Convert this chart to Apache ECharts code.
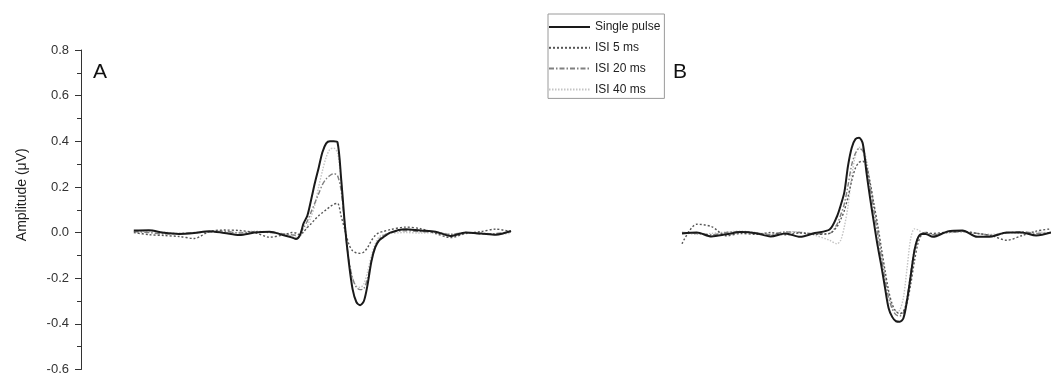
<!DOCTYPE html>
<html>
<head>
<meta charset="utf-8">
<script src="https://cdn.jsdelivr.net/npm/echarts@6/dist/echarts.min.js"></script>
<style>
  html, body { margin: 0; padding: 0; background: #fff; }
  #chart { width: 1051px; height: 376px; }
</style>
</head>
<body>
<div id="chart"></div>
<script>
// time axis (arbitrary units), shared by both panels
const timeMs = [0, 4, 8, 12, 16, 20, 24, 28, 32, 36, 40,
  42, 43, 44, 45, 46, 47, 48, 49, 50, 51, 52, 53, 54, 55, 56, 57, 58, 59, 60, 61, 62, 63, 64, 65, 66,
  68, 72, 76, 80, 84, 88, 92, 96, 100];

const seriesNames = ['Single pulse', 'ISI 5 ms', 'ISI 20 ms', 'ISI 40 ms'];
const yTicks = [-0.6, -0.4, -0.2, 0.0, 0.2, 0.4, 0.6, 0.8];

// panel A
const singleA = [0.009, 0.01, -0.001, -0.006, -0.002, 0.006, -0.002, -0.011, 0.0, 0.004, -0.013,
  -0.022, -0.028, -0.013, 0.04, 0.074, 0.143, 0.217, 0.283, 0.352, 0.391, 0.4, 0.4, 0.396, 0.23, 0.026, -0.13, -0.248, -0.304, -0.318, -0.3, -0.226, -0.126, -0.065, -0.035, -0.022,
  0.0, 0.015, 0.009, 0.004, -0.015, 0.0, -0.004, -0.009, 0.007];
const isi5A = [0.0, -0.009, -0.013, -0.017, -0.026, 0.004, 0.011, 0.009, 0.0, -0.02, -0.009,
  0.0, -0.002, -0.009, 0.004, 0.022, 0.039, 0.057, 0.074, 0.087, 0.1, 0.113, 0.124, 0.128, 0.07, 0.01, -0.05, -0.08, -0.089, -0.091, -0.085, -0.065, -0.035, -0.013, 0.0, 0.004,
  0.013, 0.024, 0.017, -0.004, -0.022, -0.004, 0.004, 0.015, 0.004];
const isi20A = [0.004, 0.0, -0.006, -0.004, 0.0, 0.002, 0.006, -0.002, 0.004, 0.0, -0.006,
  -0.01, -0.012, -0.004, 0.02, 0.05, 0.09, 0.13, 0.17, 0.21, 0.235, 0.25, 0.258, 0.25, 0.18, 0.02, -0.12, -0.2, -0.24, -0.25, -0.245, -0.2, -0.12, -0.06, -0.03, -0.015,
  0.0, 0.008, 0.004, 0.002, -0.008, 0.0, -0.006, -0.004, 0.004];
const isi40A = [0.006, 0.004, 0.002, -0.004, -0.002, 0.004, 0.002, 0.0, 0.006, 0.002, -0.008,
  -0.014, -0.02, -0.016, 0.0, 0.03, 0.07, 0.12, 0.2, 0.27, 0.33, 0.365, 0.37, 0.35, 0.22, 0.02, -0.12, -0.2, -0.235, -0.24, -0.225, -0.17, -0.1, -0.05, -0.02, -0.01,
  -0.004, 0.0, -0.002, 0.0, -0.006, -0.004, -0.002, -0.006, -0.004];

// panel B
const singleB = [0.0, 0.004, -0.013, -0.004, 0.006, 0.001, -0.013, 0.0, -0.015, 0.002, 0.017,
  0.074, 0.122, 0.18, 0.296, 0.374, 0.411, 0.417, 0.391, 0.265, 0.152, 0.048, -0.052, -0.139, -0.235, -0.326, -0.365, -0.383, -0.385, -0.37, -0.291, -0.183, -0.074, -0.017, -0.002, -0.002,
  -0.015, 0.009, 0.013, -0.015, -0.013, 0.004, 0.004, -0.009, 0.004];
const isi5B = [-0.045, 0.04, 0.03, -0.01, 0.0, -0.004, 0.004, -0.006, 0.002, -0.004, 0.0,
  0.03, 0.06, 0.1, 0.16, 0.23, 0.285, 0.31, 0.315, 0.29, 0.22, 0.13, 0.04, -0.06, -0.16, -0.25, -0.31, -0.34, -0.35, -0.34, -0.3, -0.22, -0.12, -0.04, -0.005, 0.004,
  0.0, 0.006, 0.01, 0.0, -0.01, -0.03, -0.01, 0.01, 0.02];
const isi20B = [0.004, 0.0, -0.006, 0.004, 0.008, 0.002, -0.004, 0.006, 0.004, -0.002, 0.0,
  0.04, 0.08, 0.13, 0.21, 0.3, 0.35, 0.37, 0.36, 0.3, 0.2, 0.1, 0.0, -0.1, -0.2, -0.28, -0.33, -0.355, -0.36, -0.345, -0.28, -0.17, -0.07, -0.015, 0.0, 0.004,
  -0.006, 0.004, 0.008, 0.0, -0.008, 0.002, 0.008, 0.0, 0.004];
const isi40B = [0.004, -0.004, 0.0, 0.006, 0.01, 0.004, -0.006, 0.008, 0.006, -0.008, -0.03,
  -0.045, -0.03, 0.03, 0.12, 0.25, 0.34, 0.375, 0.37, 0.32, 0.22, 0.12, 0.02, -0.08, -0.18, -0.27, -0.32, -0.34, -0.335, -0.28, -0.15, -0.02, 0.02, 0.015, 0.005, 0.0,
  -0.004, 0.002, 0.006, 0.0, -0.004, 0.004, 0.0, 0.006, 0.002];

const font = '"Liberation Sans", Arial, sans-serif';

// line look for each trace
const lineLooks = [
  { color: '#1a1a1a', width: 2, type: 'solid' },
  { color: '#555555', width: 1.4, type: [2, 2] },
  { color: '#808080', width: 1.4, type: [5, 2, 1.5, 2] },
  { color: '#c4c4c4', width: 1.4, type: [1.5, 1.5] }
];

const zip = (ys) => timeMs.map((t, i) => [t, ys[i]]);

const makeSeries = (dataList, gridIdx) =>
  dataList.map((ys, i) => ({
    name: seriesNames[i],
    type: 'line',
    xAxisIndex: gridIdx,
    yAxisIndex: gridIdx,
    data: zip(ys),
    smooth: 0.3,
    symbol: 'none',
    z: 10 - i,
    lineStyle: {
      color: lineLooks[i].color,
      width: lineLooks[i].width,
      type: lineLooks[i].type
    },
    itemStyle: { color: lineLooks[i].color }
  }));

const chart = echarts.init(document.getElementById('chart'));

const option = {
  animation: false,
  backgroundColor: '#fff',
  textStyle: { fontFamily: font },
  title: [
    { text: 'A', left: 88, top: 57, textStyle: { fontSize: 21, fontWeight: 'normal', color: '#111', fontFamily: font } },
    { text: 'B', left: 668, top: 57, textStyle: { fontSize: 21, fontWeight: 'normal', color: '#111', fontFamily: font } }
  ],
  legend: {
    data: seriesNames,
    orient: 'vertical',
    left: 548,
    top: 14,
    padding: [7, 4, 3, 0],
    itemWidth: 41,
    itemHeight: 10,
    itemGap: 8.8,
    borderColor: '#9a9a9a',
    borderWidth: 1,
    itemStyle: { opacity: 0, borderWidth: 0 },
    textStyle: { fontSize: 12, color: '#222', fontFamily: font }
  },
  grid: [
    { left: 81, top: 50, width: 430, bottom: 5 },
    { left: 682, top: 50, width: 377, bottom: 5 }
  ],
  xAxis: [
    { type: 'value', gridIndex: 0, min: -14, max: 100, show: false },
    { type: 'value', gridIndex: 1, min: 0, max: 100, show: false }
  ],
  yAxis: [
    {
      type: 'value',
      gridIndex: 0,
      min: yTicks[0],
      max: yTicks[yTicks.length - 1],
      interval: 0.2,
      name: 'Amplitude (\u03bcV)',
      nameLocation: 'middle',
      nameGap: 52,
      // the label sits a bit above the middle of the axis
      nameTextStyle: { fontSize: 14, color: '#222', fontFamily: font, padding: [0, 0, 0, 30] },
      axisLine: { show: true, onZero: false, lineStyle: { color: '#333', width: 1 } },
      axisTick: { show: true, inside: false, length: 6, lineStyle: { color: '#333' } },
      minorTick: { show: true, splitNumber: 2, length: 4, lineStyle: { color: '#333' } },
      axisLabel: {
        margin: 12,
        fontSize: 13,
        color: '#333',
        fontFamily: font,
        formatter: (v) => v.toFixed(1)
      },
      splitLine: { show: false }
    },
    {
      type: 'value',
      gridIndex: 1,
      min: yTicks[0],
      max: yTicks[yTicks.length - 1],
      interval: 0.2,
      show: false
    }
  ],
  series: [
    ...makeSeries([singleA, isi5A, isi20A, isi40A], 0),
    ...makeSeries([singleB, isi5B, isi20B, isi40B], 1)
  ]
};

chart.setOption(option);
</script>
</body>
</html>
